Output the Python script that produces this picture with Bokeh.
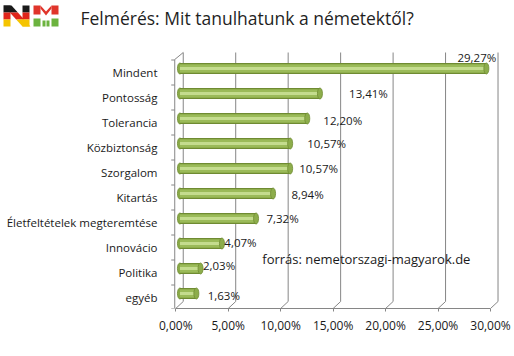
from bokeh.plotting import figure
from bokeh.layouts import column
from bokeh.models import Range1d, FixedTicker, ColumnDataSource, Label
from bokeh.embed import file_html
from bokeh.resources import INLINE
from bokeh.core.properties import value

# ---------------- data ----------------
categories = ["egyéb", "Politika", "Innovácio", "Életfeltételek megteremtése", "Kitartás",
              "Szorgalom", "Közbiztonság", "Tolerancia", "Pontosság", "Mindent"]
values = [1.63, 2.03, 4.07, 7.32, 8.94, 10.57, 10.57, 12.20, 13.41, 29.27]
value_labels = ["1,63%", "2,03%", "4,07%", "7,32%", "8,94%", "10,57%", "10,57%",
                "12,20%", "13,41%", "29,27%"]
x_ticks = [0, 5, 10, 15, 20, 25, 30]
x_tick_labels = ["0,00%", "5,00%", "10,00%", "15,00%", "20,00%", "25,00%", "30,00%"]
title_text = "Felmérés: Mit tanulhatunk a németektől?"
source_text = "forrás: nemetorszagi-magyarok.de"

# label pixel offsets (style only)
label_dx = [31, 22, 22, 30, 38, 32, 40, 39, 52, -6]
label_dy = [-2, -7, -5, -4, -3, -4, -4, -2, -4, -15]

FONT = "Open Sans"
GRID = "#868686"
TXT = "#1a1a1a"

XS, YS = 10.49, 25.0
def px2x(px):
    return (px - 175.5) / XS
def px2y(py):
    return (297.0 - py) / YS

# ---------------- header figure (logo + title) ----------------
h = figure(width=514, height=45, x_range=Range1d(0, 514), y_range=Range1d(45, 0),
           output_backend="svg", toolbar_location=None, x_axis_location=None,
           y_axis_location=None, min_border=0)
h.frame_align = False
h.outline_line_color = None
h.xgrid.visible = False
h.ygrid.visible = False

logo_xs, logo_ys, logo_c = [], [], []
def poly(pts, color):
    logo_xs.append([a for a, b in pts])
    logo_ys.append([b for a, b in pts])
    logo_c.append(color)

def nband(y0, y1, color):
    X0, X1, T, B, W = 3, 29, 5, 26, 7
    poly([(X0, y0), (X0 + W, y0), (X0 + W, y1), (X0, y1)], color)
    poly([(X1 - W, y0), (X1, y0), (X1, y1), (X1 - W, y1)], color)
    def dl(y):
        return X0 + (y - T) / (B - T) * (X1 - W - X0)
    poly([(dl(y0), y0), (dl(y0) + W + 1, y0), (dl(y1) + W + 1, y1), (dl(y1), y1)], color)

nband(5, 12, "#1a1a1a")
nband(12, 19, "#e0251b")
nband(19, 26, "#f5c400")
poly([(33, 5), (40, 5), (40, 14), (33, 14)], "#e0352b")
poly([(51, 5), (58, 5), (58, 14), (51, 14)], "#e0352b")
poly([(40, 5), (45.5, 11), (51, 5), (51, 8), (45.5, 15), (40, 8)], "#e0352b")
poly([(33, 18), (40, 18), (40, 26), (33, 26)], "#6cb33f")
poly([(51, 18), (58, 18), (58, 26), (51, 26)], "#6cb33f")
poly([(42, 20), (45, 20), (45, 26), (42, 26)], "#6cb33f")
poly([(46, 20), (49, 20), (49, 26), (46, 26)], "#6cb33f")
h.patches(xs=logo_xs, ys=logo_ys, fill_color=logo_c, line_color=None)
h.text(x=[80], y=[17], text=[title_text], text_align="left", text_baseline="middle",
       text_font=value(FONT), text_font_size="17.5px", text_color="#1f1f1f")

# ---------------- main chart ----------------
p = figure(width=514, height=311, x_range=Range1d(-0.5, 32), y_range=Range1d(-0.44, 10.08),
           output_backend="svg", toolbar_location=None,
           min_border_left=170, min_border_right=3, min_border_top=0, min_border_bottom=48)
p.frame_align = False
p.outline_line_color = None
p.xgrid.visible = False
p.ygrid.visible = False

xa = p.xaxis[0]
xa.ticker = FixedTicker(ticks=x_ticks)
xa.major_label_overrides = {t: l for t, l in zip(x_ticks, x_tick_labels)}
xa.bounds = (x_ticks[0], x_ticks[-1])
xa.axis_line_color = GRID
xa.major_tick_line_color = GRID
xa.major_tick_out = 3
xa.major_tick_in = 0
xa.minor_tick_line_color = None
xa.major_label_standoff = 5
xa.major_label_text_font = FONT
xa.major_label_text_font_size = "12px"
xa.major_label_text_color = TXT

ya = p.yaxis[0]
ya.ticker = FixedTicker(ticks=list(range(len(categories))))
ya.major_label_overrides = {i: c for i, c in enumerate(categories)}
ya.axis_line_color = None
ya.major_tick_line_color = None
ya.minor_tick_line_color = None
ya.major_label_standoff = 7
ya.major_label_text_font = FONT
ya.major_label_text_font_size = "11.5px"
ya.major_label_text_color = TXT

bdx, bdy = 7.5 / XS, 7.0 / YS
floor_y = -0.44
top_y = px2y(52)
p.segment(x0=[t + bdx for t in x_ticks], y0=[floor_y + bdy] * len(x_ticks),
          x1=[t + bdx for t in x_ticks], y1=[top_y] * len(x_ticks), line_color=GRID, line_width=1)
p.segment(x0=x_ticks, y0=[floor_y] * len(x_ticks),
          x1=[t + bdx for t in x_ticks], y1=[floor_y + bdy] * len(x_ticks), line_color=GRID, line_width=1)
lx = px2x(174.5)
p.segment(x0=[lx, lx], y0=[floor_y, top_y - bdy], x1=[lx, bdx], y1=[top_y - bdy, top_y],
          line_color=GRID, line_width=1)
tick_y = [floor_y] + [i + 0.5 for i in range(len(categories))]
p.segment(x0=[px2x(171)] * len(tick_y), y0=tick_y, x1=[lx] * len(tick_y), y1=tick_y,
          line_color=GRID, line_width=1)

mid = 3.5 / XS
bar_y = [i + 0.16 for i in range(len(categories))]
src = ColumnDataSource(dict(
    y=bar_y, right=[v + mid for v in values], cat=categories, val=values,
    yl=list(range(len(categories))), lbl=value_labels, dx=label_dx, dy=label_dy))
left0 = 0.4
p.ellipse(x=left0, y="y", width=0.48, height=0.44, source=src,
          fill_color="#8aaa48", line_color="#6f8b32", line_width=0.8)
p.hbar(y="y", left=left0, right="right", height=0.44, source=src,
       fill_color="#6f8b32", line_color=None)
p.hbar(y="y", left=left0, right="right", height=0.34, source=src,
       fill_color="#9bbb59", line_color=None)
p.hbar(y="y", left=left0, right="right", height=0.12, source=src,
       fill_color="#c4dc8e", line_color=None)
p.ellipse(x="right", y="y", width=0.48, height=0.44, source=src,
          fill_color="#8dad4b", line_color="#6f8b32", line_width=0.8)

p.text(x="val", y="yl", text="lbl", x_offset="dx", y_offset="dy", source=src,
       text_align="center", text_baseline="middle", text_font=value(FONT),
       text_font_size="11.5px", text_color=TXT)

p.add_layout(Label(x=px2x(262), y=px2y(258), text=source_text, text_align="left",
                   text_baseline="middle", text_font=FONT, text_font_size="13px",
                   text_color=TXT))

layout = column(h, p, spacing=0)
open("out.html", "w").write(file_html(layout, INLINE))
